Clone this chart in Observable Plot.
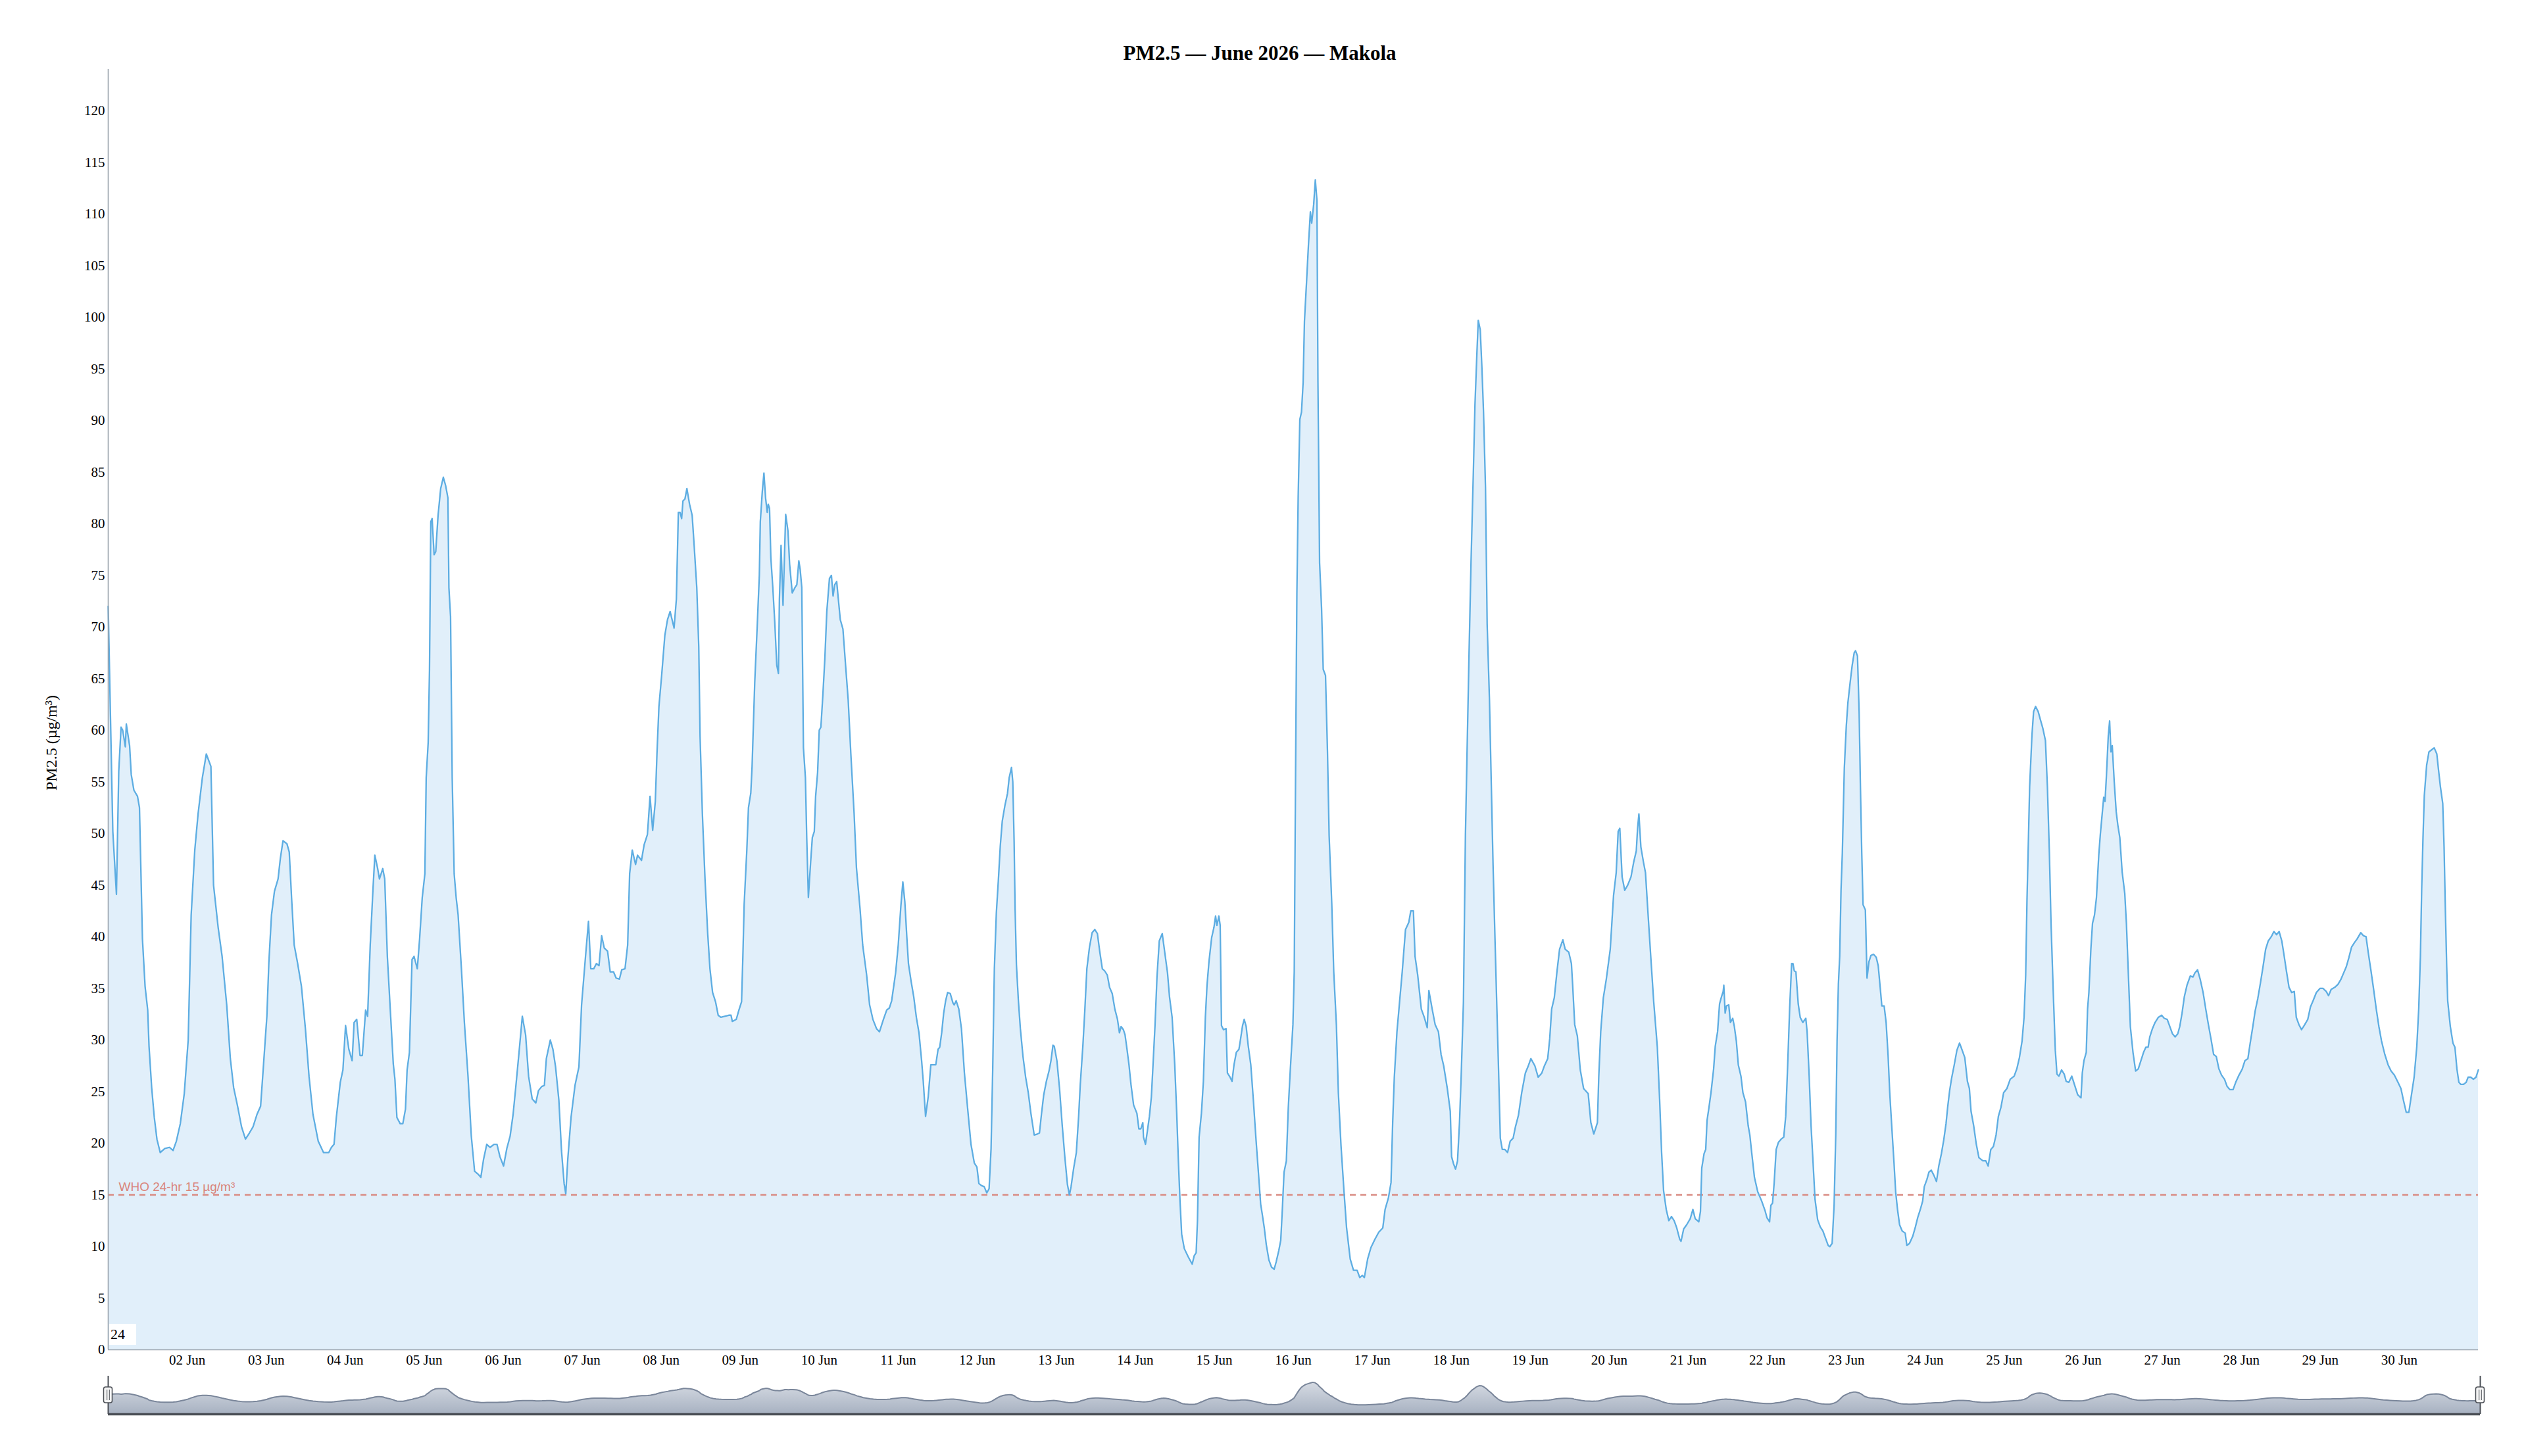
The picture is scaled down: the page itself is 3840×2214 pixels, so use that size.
<!DOCTYPE html>
<html>
<head>
<meta charset="utf-8">
<script src="https://cdn.jsdelivr.net/npm/d3@7"></script>
<script src="https://cdn.jsdelivr.net/npm/@observablehq/plot@0.6"></script>
<style>
  html, body { margin: 0; padding: 0; background: #ffffff; }
  #wrap { position: relative; width: 3840px; height: 2214px; overflow: hidden; background: #fff; }
  #title { position: absolute; left: 0; top: 62px; width: 3830px; height: 38px; line-height: 38px;
           text-align: center; font-family: "Liberation Serif", "Times New Roman", serif;
           font-weight: bold; font-size: 31px; color: #000; }
  #main { position: absolute; left: 0; top: 0; }
  #nav { position: absolute; left: 0; top: 2080px; }
  #rangeLabel { position: absolute; left: 166px; top: 2013px; width: 41px; height: 32px; background: #fff;
                font-family: "Liberation Serif", "Times New Roman", serif; font-size: 22px; line-height: 32px;
                padding-left: 2px; box-sizing: border-box; color: #000; }
</style>
</head>
<body>
<div id="wrap">
  <div id="title"></div>
  <div id="main"></div>
  <div id="nav"></div>
  <div id="rangeLabel"></div>
</div>
<script>
// ---- chart text ----
const titleText = "PM2.5 — June 2026 — Makola";
const yLabel = "PM2.5 (µg/m³)";
const whoLimit = 15;
const whoText = "WHO 24-hr 15 µg/m³";
const rangeText = "24";

// ---- ticks ----
const dayTicks = [2,3,4,5,6,7,8,9,10,11,12,13,14,15,16,17,18,19,20,21,22,23,24,25,26,27,28,29,30];
const yTicks = [0,5,10,15,20,25,30,35,40,45,50,55,60,65,70,75,80,85,90,95,100,105,110,115,120];
const yMax = 124;

// ---- readings: [hours since 2026-06-01 00:00, PM2.5 µg/m³] ----
const block1 = [
[0,72],[1.4,50.2],[2.5,44.1],[3.2,56],[3.9,60.3],[4.4,60.0],[5.2,58.4],[5.5,60.6],[6.5,58.5],[7.0,55.7],
[7.8,54.2],[8.9,53.6],[9.5,52.5],[10.4,39.8],[11.2,35.2],[12.0,32.9],[12.4,29.4],[13.2,25.4],[14.0,22.5],[14.8,20.4],
[15.8,19.1],[17.2,19.5],[18.6,19.6],[19.7,19.3],[20.7,20.2],[21.9,21.9],[23.1,24.8],[24.3,30.0],[25.2,42.1],[26.3,48.4],
[27.3,51.9],[28.6,55.4],[29.8,57.7],[31.2,56.5],[32.0,45.0],[33.4,40.9],[34.6,38.1],[36.0,33.4],[37.1,28.2],[38.1,25.4],
[39.3,23.6],[40.5,21.6],[41.7,20.4],[42.9,21.0],[44.0,21.6],[45.2,22.8],[46.3,23.6],[47.2,27.7],[48.2,32.3],[48.8,37.5],
[49.6,42.1],[50.5,44.4],[51.6,45.6],[52.3,47.6],[53.1,49.3],[54.3,49.0],[55.0,48.2],[55.7,43.8],[56.5,39.2],[57.5,37.5],
[58.7,35.2],[59.9,31.1],[61.0,26.5],[62.2,22.8],[63.8,20.2],[65.4,19.1],[67.0,19.1],[67.8,19.6],[68.6,19.9],[69.3,22.5],
[70.5,25.9],[71.3,27.1],[72.1,31.4],[73.1,29.1],[74.1,28.0],[74.7,31.7],[75.5,32.0],[76.5,28.5],[77.2,28.5],[78.2,32.9],
[78.8,32.3],[79.6,39.2],[80.4,44.4],[81.0,47.9],[81.8,46.7],[82.4,45.6],[83.4,46.6],[84.0,45.6],[84.8,38.1],[85.8,32.3],
[86.6,27.7],[87.1,26.2],[87.7,22.5],[88.7,21.9],[89.5,21.9],[90.3,23.3],[90.8,27.1],[91.5,28.8],[92.3,37.8],[92.9,38.1],
[93.9,36.9],[94.6,39.8],[95.4,43.8],[96.2,46.1],[96.6,55.4],[97.2,58.8],[97.6,65.8],[98.0,80.2],[98.4,80.5],[99.0,77.0],
[99.5,77.3],[100.2,80.8],[101.0,83.4],[101.8,84.5],[102.5,83.7],[103.2,82.5],[103.5,73.8],[104.0,71.0],[104.5,55.4],[105.1,46.1],
[105.7,43.8],[106.3,42.1],[107.3,36.9],[108.2,31.7],[109.3,26.5],[110.3,20.7],[111.3,17.3],[112.4,17.0],[113.2,16.7],[114.0,18.4],
[115.0,19.9],[116.0,19.6],[117.2,19.9]
];
const block2 = [
[118.1,19.9],[119.0,18.7],[120.1,17.8],[121.1,19.5],[122.1,20.7],[123.0,22.8],[123.8,25.4],[124.8,28.8],[125.8,32.3],[126.8,30.5],
[127.7,26.5],[128.8,24.3],[129.9,23.9],[130.7,25.1],[131.7,25.5],[132.5,25.6],[133.1,28.2],[134.3,30.0],[135.1,29.1],[135.9,27.4],
[136.9,24.2],[137.7,19.3],[138.5,16.1],[139.0,15.1],[139.6,18.4],[140.6,22.5],[141.8,25.6],[143.0,27.4],[143.8,33.4],[145.0,38.1],
[145.9,41.5],[146.6,36.9],[147.5,36.9],[148.3,37.4],[149.1,37.2],[149.9,40.1],[150.7,38.9],[151.7,38.6],[152.5,36.6],[153.5,36.6],
[154.3,36.0],[155.3,35.9],[156.0,36.8],[157.0,36.9],[157.8,39.2],[158.4,46.1],[159.2,48.4],[160.2,47.0],[160.8,47.9],[162.0,47.4],
[162.8,48.9],[163.8,49.9],[164.6,53.6],[165.4,50.3],[166.2,53.1],[166.7,57.7],[167.3,62.3],[168.1,65.2],[169.1,69.2],[169.9,70.7],
[170.7,71.5],[171.9,69.9],[172.6,72.7],[173.2,81.1],[173.7,81.1],[174.2,80.5],[174.6,82.2],[175.2,82.4],[175.8,83.4],[176.6,81.9],
[177.4,80.8],[178.0,77.9],[178.8,73.8],[179.4,68.1],[179.8,59.4],[180.5,51.9],[181.3,45.6],[182.1,40.4],[182.8,36.9],[183.6,34.6],
[184.5,33.7],[185.3,32.4],[186.1,32.2],[187.3,32.3],[188.5,32.4],[189.2,32.4],[189.6,31.8],[190.8,32.0],[191.6,32.9],[192.4,33.7],
[192.8,38.1],[193.2,43.2],[194.0,48.4],[194.5,52.5],[195.2,53.9],[195.6,56.5],[196.4,64.6],[197.2,70.4],[197.8,75.0],[198.1,80.2],
[198.7,83.1],[199.2,84.9],[199.7,82.5],[200.2,81.1],[200.5,81.9],[200.9,81.5],[201.3,76.7],[201.9,73.8],[202.5,70.4],[203.1,66.3],
[203.6,65.5],[203.9,72.7],[204.4,77.9],[205.0,72.1],[205.4,76.4],[205.8,80.9],[206.5,79.3],[207.0,76.1],[207.8,73.3],[208.6,73.8],
[209.2,74.1],[209.8,76.4],[210.2,75.6],[210.7,73.8],[211.2,58.3],[211.8,55.4],[212.2,49.6],[212.7,43.8],[213.4,47.3],[213.9,49.6],
[214.5,50.2],[214.9,53.6],[215.5,55.9],[216.0,60.0],[216.5,60.3],[217.1,63.4],[217.7,66.9],[218.3,71.5],[219.1,74.7],[219.7,75.0],
[220.2,73.0],[220.7,74.1],[221.3,74.4],[221.8,72.7],[222.4,70.7],[223.2,69.8],[224.0,66.3],[224.8,62.9],[225.6,57.7],[226.6,51.9],
[227.3,46.7],[228.4,42.7],[229.2,39.2],[230.4,36.3],[231.3,33.4],[232.3,32.0],[233.4,31.1],[234.3,30.8],[235.5,32.0],[236.5,32.9],
[237.3,33.1]
];
const block3 = [
[238.0,33.8],[239.2,36.5],[240.0,39.2],[240.8,43.0],[241.4,45.3],[242.0,43.4],[242.6,40.0],[243.1,37.4],[243.9,35.7],[244.7,34.2],
[245.5,32.2],[246.3,30.7],[247.1,28.0],[247.6,26.0],[248.3,22.6],[249.1,24.5],[249.9,27.6],[250.6,27.6],[251.4,27.6],[252.1,29.1],
[252.6,29.3],[253.2,30.7],[253.8,32.6],[254.4,33.8],[255.0,34.6],[255.8,34.5],[256.6,33.6],[257.0,33.4],[257.6,33.8],[258.4,33.0],
[259.2,31.1],[260.1,26.8],[261.1,23.3],[262.1,19.9],[263.1,18.1],[263.9,17.7],[264.5,16.1],[265.3,15.9],[266.1,15.8],[266.9,15.2],
[267.6,15.6],[268.2,19.5],[268.7,27.2],[269.2,36.9],[269.8,42.3],[270.4,45.4],[271.0,48.8],[271.6,51.2],[272.4,52.7],[273.2,53.9],
[273.7,55.4],[274.4,56.4],[274.8,55.0],[275.2,49.2],[275.5,42.7],[275.9,37.3],[276.5,33.8],[277.1,31.1],[277.9,28.4],[278.7,26.4],
[279.5,24.9],[280.3,22.9],[281.3,20.8],[282.3,20.9],[282.9,21.0],[283.5,22.8],[284.2,24.7],[285.0,26.0],[285.8,27.0],[286.4,28.0],
[287.0,29.5],[287.4,29.4],[288.2,28.0],[289.0,25.3],[289.8,21.8],[290.6,18.7],[291.4,16.0],[292.0,15.0],[292.5,15.8],[293.3,17.6],
[294.1,19.1],[294.8,22.6],[295.3,25.7],[296.1,29.5],[296.7,33.0],[297.3,36.9],[298.1,39.0],[298.9,40.4],[299.7,40.7],[300.5,40.3],
[301.2,38.6],[302.0,36.9],[302.7,36.7],[303.5,36.3],[304.2,35.1],[305.0,34.5],[305.8,33.0],[306.6,32.0],[307.2,30.7],[307.7,31.3],
[308.4,31.0],[308.9,30.5],[309.5,29.1],[310.1,27.6],[310.7,25.7],[311.5,23.7],[312.5,22.9],[313.1,21.4],[313.7,21.4],[314.3,22.0],
[314.5,20.6],[315.1,19.9],[315.6,21.0],[316.3,22.6],[316.9,24.5],[317.4,27.6],[318.0,31.4],[318.6,36.1],[319.3,39.6],[319.8,40.0],
[320.2,40.3],[321.0,38.4],[321.8,36.5],[322.4,34.2],[323.2,32.2],[324.0,27.6],[324.6,22.9],[325.1,18.3],[325.6,14.4],[326.1,11.2],
[326.9,9.8],[328.1,9.0],[329.3,8.3],[329.9,9.1],[330.5,9.4],[330.9,12.5],[331.4,20.6],[332.1,22.9],[332.7,26.0],[333.3,32.2],
[333.8,35.3],[334.4,37.6],[335.2,39.9],[335.9,40.9],[336.4,42.0],[336.8,41.1],[337.4,42.0],[337.8,41.1],[338.2,31.4],[338.8,31.0],
[339.6,31.1],[340.0,26.8],[340.8,26.4],[341.4,26.0],[342.0,27.6],[342.7,28.8],[343.5,29.1],[343.9,29.9],[344.6,31.4],[345.1,32.0],
[345.7,31.3],[346.3,29.5],[347.1,27.6],[347.9,24.1],[348.7,20.3],[349.5,16.8],[350.1,14.1],[350.6,13.1],[351.2,11.8],[351.8,10.2],
[352.6,8.7],[353.4,8.0],[354.2,7.8],[354.8,8.5],[355.6,9.6],[356.2,10.6],[356.7,13.7],[357.2,17.2]
];
const block4 = [
[357.9,18.3],[358.5,23.5],[359.1,27.1],[359.9,31.5],[360.3,36.6],[360.7,55.7],[361.1,73.2],[361.5,82.7],[362.0,90.1],[362.5,90.8],
[363.0,93.7],[363.4,99.6],[364.0,103.2],[364.6,106.9],[365.2,110.2],[365.6,109.1],[366.2,110.9],[366.7,113.3],[367.2,111.3],[367.5,93.7],
[368.0,76.2],[368.6,71.8],[369.1,65.9],[369.8,65.3],[370.4,57.9],[370.9,49.8],[371.7,43.2],[372.3,36.6],[373.1,31.5],[373.7,24.9],
[374.5,19.8],[375.4,15.4],[376.2,11.8],[377.3,8.8],[378.3,7.7],[379.4,7.7],[380.2,7.0],[381.0,7.2],[381.6,7.0],[382.6,8.8],
[383.6,9.9],[384.8,10.7],[386.0,11.4],[387.2,11.8],[387.9,13.6],[388.9,14.7],[389.7,16.2],[390.2,22.0],[390.7,26.4],[391.5,30.8],
[392.3,33.7],[393.1,36.6],[394.1,40.7],[395.1,41.4],[395.7,42.5],[396.5,42.5],[397.0,38.1],[397.8,36.3],[398.9,33.0],[399.8,32.2],
[400.7,31.2],[401.2,34.8],[402.2,33.0],[403.1,31.5],[404.1,30.8],[404.9,28.6],[405.7,27.5],[406.8,25.3],[407.7,23.1],[408.1,18.7],
[408.7,18.0],[409.3,17.5],[409.9,18.3],[410.5,22.0],[411.0,26.4],[411.7,33.7],[412.3,49.8],[412.8,57.9],[413.4,67.4],[414.0,76.2],
[414.7,84.9],[415.2,91.5],[415.8,96.6],[416.2,99.7],[416.8,98.8],[417.3,95.2],[417.8,90.8],[418.4,83.5],[418.9,70.3],[419.6,63.0],
[420.2,54.2],[420.7,46.9],[421.3,39.6],[421.8,33.7],[422.3,27.9],[422.9,20.5],[423.5,19.4],[424.3,19.4],[425.1,19.1],[425.9,20.2],
[426.8,20.5],[427.5,21.6],[428.4,22.7],[429.4,24.9],[430.5,26.8],[431.4,27.5],[432.2,28.2],[433.4,27.5],[434.4,26.4],[435.5,26.8],
[436.3,27.5],[437.3,28.2],[437.9,30.1],[438.5,33.0],[439.3,34.1],[440.1,36.6],[440.9,38.8],[441.9,39.7],[442.6,38.8],[443.7,38.5],
[444.5,37.4],[444.9,35.2],[445.5,31.5],[446.3,30.4],[447.2,27.1],[448.2,25.3],[449.6,24.8],[450.4,22.0],[451.3,20.9],[452.4,22.0],
[452.8,26.4],[453.4,30.8],[454.2,34.1],[455.1,35.9],[456.3,38.8],[457.3,44.0],[458.1,46.2],[458.7,50.2],[459.2,50.5],[459.9,45.8],
[460.7,44.5],[461.6,45.0],[462.6,45.8],[463.4,47.2],[464.2,48.3],[464.6,50.5],[465.0,51.9],[465.6,48.7],[466.4,47.2],[467.0,46.2],
[467.8,42.1],[468.6,38.1],[469.5,33.7],[470.6,29.3],[471.3,24.2],[471.9,19.1],[472.5,15.4],[473.3,13.6],[474.1,12.5],[474.9,12.9],
[475.7,12.5],[476.5,11.8],[477.4,10.7]
];
const block5 = [
[477.8,10.5],[478.6,11.7],[479.5,12.1],[480.6,12.7],[481.4,13.6],[482.1,12.7],[483.2,12.4],[483.7,13.4],[484.1,17.6],[484.8,19.0],
[485.3,19.4],[485.7,22.2],[486.3,23.5],[486.9,24.9],[487.7,27.2],[488.2,29.4],[488.9,30.8],[489.5,33.5],[490.1,34.2],[490.6,34.7],
[490.8,35.3],[491.2,32.6],[491.6,33.3],[492.3,33.4],[492.8,31.7],[493.5,32.1],[494.0,31.3],[494.6,29.9],[495.2,27.6],[496.0,26.5],
[496.6,24.9],[497.4,24.0],[498.2,21.7],[498.7,20.8],[499.3,19.0],[500.1,16.7],[501.1,15.3],[502.3,14.4],[503.3,13.5],[503.9,12.8],
[504.7,12.4],[505.1,14.0],[505.6,14.2],[506.1,16.2],[506.7,19.4],[507.4,20.1],[508.2,20.4],[509.0,20.6],[509.6,22.6],[510.2,27.6],
[510.8,33.1],[511.4,37.4],[511.8,37.4],[512.2,36.7],[512.7,36.6],[513.4,33.5],[514.0,32.2],[514.8,31.7],[515.7,32.1],[516.1,30.8],
[516.7,26.7],[517.3,21.7],[518.0,17.6],[518.5,14.6],[519.3,12.6],[520.1,11.9],[520.9,11.5],[521.7,10.8],[522.5,10.1],[523.0,10.0],
[523.7,10.3],[524.3,14.0],[524.8,20.8],[525.2,29.9],[525.6,35.4],[526.0,38.1],[526.4,44.5],[526.8,48.1],[527.4,56.3],[528.0,60.4],
[528.5,62.7],[529.2,64.7],[529.8,66.3],[530.4,67.5],[530.8,67.7],[531.4,67.2],[531.9,61.8],[532.3,54.5],[532.7,48.1],[533.1,43.1],
[533.8,42.6],[534.3,36.0],[534.9,37.6],[535.5,38.2],[536.3,38.3],[537.1,38.0],[537.7,37.2],[538.3,35.1],[538.8,33.3],[539.5,33.3],
[540.1,31.7],[540.7,28.5],[541.2,24.9],[541.8,21.7],[542.5,18.1],[543.0,15.3],[543.6,13.5],[544.2,12.1],[545.0,11.5],[545.9,11.3],
[546.4,10.1],[547.2,10.3],[548.2,11.0],[549.0,11.9],[549.7,12.8],[550.5,13.6],[551.2,14.4],[551.7,15.8],[552.5,16.5],[553.1,17.2],
[553.8,17.4],[554.6,16.9],[555.4,16.3],[556.1,17.8],[556.9,19.0],[557.6,20.3],[558.3,21.9],[558.8,23.5],[559.4,25.1],[560.0,26.3],
[560.8,27.6],[561.6,29.0],[562.4,29.7],[563.0,29.2],[564.0,28.3],[564.8,26.0],[565.4,25.3],[565.9,23.1],[566.7,21.7],[567.5,19.9],
[568.3,18.6],[569.5,18.3],[570.4,18.3],[571.1,17.8],[571.9,19.4],[572.7,19.7],[573.5,20.8],[574.2,22.6],[575.0,23.5],[575.8,24.9],
[576.8,25.3],[577.8,26.2],[579.0,26.5],[579.8,27.2],[580.6,28.3],[581.4,29.9],[582.0,32.2],[582.5,36.3],[582.9,43.6],[583.3,49.0],
[583.7,54.5],[584.4,59.5],[584.9,61.8],[585.5,62.3],[586.3,61.8],[586.9,61.1],[587.7,60.2],[588.5,59.0],[589.1,54.5],[589.7,48.1],
[590.2,41.3],[590.9,34.4],[591.5,29.0],[592.0,26.7],[592.6,26.5],[593.4,27.1],[594.2,26.7],[594.8,26.0],[595.6,25.9],[596.5,26.5],
[597.2,25.8]
];
const block6 = [
[598.3,24.7],[599.3,24.4],[599.7,26.8],[600.2,28.0],[600.9,28.8],[601.3,33.0],[601.7,34.6],[602.3,38.8],[602.8,41.3],[603.4,42.1],
[604.0,43.8],[604.7,47.9],[605.2,50.0],[605.8,52.1],[606.2,53.5],[606.6,53.1],[607.0,55.4],[607.6,59.5],[608.0,60.9],[608.4,57.9],
[608.8,58.5],[609.4,55.0],[610.0,52.1],[610.5,50.8],[611.1,49.6],[611.8,46.3],[612.6,44.2],[613.1,41.3],[613.7,36.3],[614.3,31.3],
[615.1,28.8],[615.9,27.0],[616.7,27.2],[617.5,28.0],[618.3,28.8],[619.0,29.3],[619.7,29.3],[620.2,30.3],[621.0,31.1],[621.8,31.7],
[622.8,32.2],[623.8,32.4],[624.6,32.1],[625.5,32.0],[626.3,31.3],[627.1,30.6],[627.9,30.3],[628.7,30.6],[629.3,31.3],[630.0,32.6],
[630.7,34.2],[631.5,35.3],[632.5,36.2],[633.3,36.1],[633.9,36.5],[634.7,36.8],[635.5,35.9],[636.4,34.6],[637.2,33.0],[638.0,31.5],
[638.8,30.1],[639.6,28.6],[640.4,28.4],[641.2,27.2],[642.0,26.6],[642.9,26.2],[643.7,25.5],[644.5,25.2],[645.5,25.2],[646.3,25.9],
[647.3,26.6],[648.3,27.2],[649.1,28.0],[650.0,28.2],[650.7,29.7],[651.5,31.3],[652.2,32.8],[653.0,34.0],[653.8,35.5],[654.6,37.1],
[655.4,38.8],[656.2,39.6],[657.1,40.0],[657.9,40.5],[658.7,40.2],[659.5,40.5],[660.3,39.6],[660.9,38.4],[661.7,36.7],[662.5,35.1],
[663.3,34.6],[664.1,34.7],[664.7,32.2],[665.5,31.5],[666.3,31.0],[667.3,31.5],[668.2,32.0],[669.0,33.2],[669.8,33.8],[670.8,34.6],
[671.9,35.0],[672.8,35.0],[673.8,34.7],[674.5,34.3],[675.3,34.9],[676.4,35.1],[677.4,35.4],[678.3,35.9],[679.1,36.5],[679.9,37.1],
[680.7,38.0],[681.5,39.0],[682.3,39.4],[683.2,39.8],[684.3,40.4],[685.1,40.1],[685.9,40.0],[686.6,38.4],[687.4,36.7],[688.2,34.9],
[689.0,33.0],[689.8,31.3],[690.6,29.9],[691.6,28.6],[692.6,27.6],[693.5,27.0],[694.5,26.6],[695.6,25.9],[696.5,25.3],[697.3,24.1],
[698.1,23.0],[698.9,23.0],[699.7,24.7],[700.5,26.4],[701.3,29.3],[701.9,33.0],[702.4,38.0],[702.8,44.6],[703.2,49.6],[703.6,53.7],
[704.3,56.6],[705.0,57.9],[705.8,58.1],[706.6,58.3],[707.4,57.7],[707.9,56.2],[708.5,54.5],[709.2,52.9],[709.6,48.7],[710.0,42.5],
[710.4,37.1],[710.7,33.8],[711.5,31.3],[712.3,29.7],[712.9,29.3],[713.5,27.2],[714.1,25.9],[714.7,25.7],[715.5,25.7],[716.3,25.9],
[716.9,26.4],[717.7,26.4],[718.5,26.2],[719.3,26.4],[720.0,27.1]
];

// ---- build table ----
const start = Date.UTC(2026, 5, 1);
const HOUR = 3600000;
const data = [...block1, ...block2, ...block3, ...block4, ...block5, ...block6]
  .map(([h, v]) => ({date: new Date(start + h * HOUR), value: v}));
const xDomain = d3.extent(data, d => d.date);
const tickDates = dayTicks.map(d => new Date(Date.UTC(2026, 5, d)));
const fmt = d3.utcFormat("%d %b");

const serif = "'Liberation Serif', 'Times New Roman', serif";
const sans = "'Liberation Sans', Arial, sans-serif";

document.getElementById("title").textContent = titleText;
document.getElementById("rangeLabel").textContent = rangeText;

const main = Plot.plot({
  width: 3840,
  height: 2085,
  marginTop: 105,
  marginBottom: 33,
  marginLeft: 164,
  marginRight: 73,
  style: {fontFamily: serif, fontSize: "21px", background: "transparent", overflow: "visible", color: "#000"},
  x: {type: "utc", domain: xDomain},
  y: {domain: [0, yMax]},
  marks: [
    Plot.areaY(data, {x: "date", y: "value", fill: "#e1effa"}),
    Plot.ruleY([whoLimit], {stroke: "#d98c84", strokeWidth: 2.5, strokeDasharray: "9,7"}),
    Plot.lineY(data, {x: "date", y: "value", stroke: "#5dade2", strokeWidth: 2.3}),
    Plot.ruleX([xDomain[0]], {stroke: "#9aa3ad", strokeWidth: 1.6}),
    Plot.ruleY([0], {stroke: "#9aa3ad", strokeWidth: 1.6}),
    Plot.axisX({ticks: tickDates, tickFormat: fmt, tickSize: 0, tickPadding: 8, label: null}),
    Plot.axisY({ticks: yTicks, tickSize: 0, tickPadding: 5, label: null}),
    Plot.text([whoLimit], {y: d => d, text: () => whoText, frameAnchor: "left", dx: 16, dy: -12,
      textAnchor: "start", fill: "#d9847b", fontSize: 19, fontFamily: sans}),
    Plot.text([yLabel], {text: d => d, frameAnchor: "left", dx: -86, dy: 123, rotate: -90, fontSize: 24, fill: "#000"})
  ]
});
document.getElementById("main").appendChild(main);

// ---- navigator ----
const navFloor = -34;
const navTop = 137;
const nav = Plot.plot({
  width: 3840,
  height: 80,
  marginTop: 12,
  marginBottom: 10,
  marginLeft: 164,
  marginRight: 70,
  style: {background: "transparent", overflow: "visible"},
  x: {type: "utc", domain: xDomain, axis: null},
  y: {domain: [navFloor, navTop], axis: null},
  marks: [
    Plot.areaY(data, Plot.windowY({k: 7}, {x: "date", y1: navFloor, y2: "value", fill: "url(#navGrad)"})),
    Plot.lineY(data, Plot.windowY({k: 7}, {x: "date", y: "value", stroke: "#7a869a", strokeWidth: 2})),
    Plot.ruleY([navFloor], {stroke: "#4b4f56", strokeWidth: 3.5}),
    Plot.ruleX(xDomain, {stroke: "#4b4f56", strokeWidth: 2}),
    Plot.rect(xDomain, {x1: d => d, x2: d => d, insetLeft: -6.5, insetRight: -6.5, insetTop: 17, insetBottom: 17,
      rx: 3, fill: "#f4f4f4", stroke: "#4b4f56", strokeWidth: 1.5}),
    Plot.ruleX(xDomain, {dx: -1.8, insetTop: 21, insetBottom: 21, stroke: "#4b4f56", strokeWidth: 1}),
    Plot.ruleX(xDomain, {dx: 1.8, insetTop: 21, insetBottom: 21, stroke: "#4b4f56", strokeWidth: 1})
  ]
});
const defs = document.createElementNS("http://www.w3.org/2000/svg", "defs");
defs.innerHTML = '<linearGradient id="navGrad" x1="0" y1="0" x2="0" y2="1">' +
  '<stop offset="0" stop-color="#d6dbe3"/><stop offset="1" stop-color="#a7b1c1"/></linearGradient>';
nav.insertBefore(defs, nav.firstChild);
document.getElementById("nav").appendChild(nav);
</script>
</body>
</html>
